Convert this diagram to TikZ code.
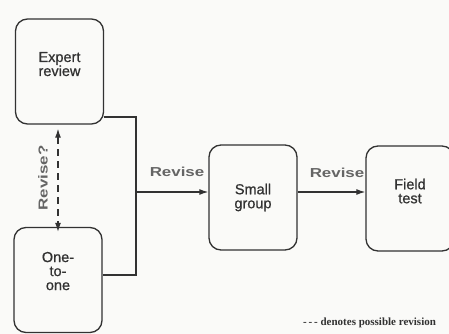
\documentclass[tikz,border=0pt]{standalone}
\usepackage{fontspec}
\setmainfont{Liberation Serif}
\newfontfamily\boxfont[FakeBold=0.8]{Liberation Sans}
\newfontfamily\revfont[FakeStretch=1.3]{Liberation Sans}
\usetikzlibrary{arrows.meta}
\definecolor{ink}{RGB}{50,50,50}
\definecolor{paper}{RGB}{250,250,248}
\begin{document}
\begin{tikzpicture}[x=1pt,y=-1pt,
  stagebox/.style={draw=ink,line width=1.3pt,rounded corners=12pt,minimum width=88pt,minimum height=105pt,inner sep=0pt,align=center,font=\boxfont\fontsize{14.5}{14}\selectfont,text=ink},
  conn/.style={draw=ink,line width=1.2pt},
  arr/.style={conn,-{Latex[length=9pt,width=6pt]}},
  revlabel/.style={font=\revfont\bfseries\fontsize{13}{14}\selectfont,text=ink!75}]
\useasboundingbox[fill=paper] (0,0) rectangle (449,334);
\node[stagebox] (expert) at (59.5,71.5) {Expert\\review\\[1pt]};
\node[stagebox] (one) at (58,280) {One-\\to-\\one\\[4pt]};
\node[stagebox] (small) at (253,197.5) {Small\\group};
\node[stagebox] (field) at (410,198.5) {Field\\test\\[1pt]};
\coordinate (jtop) at (136,117);
\coordinate (jbot) at (136,275);
\coordinate (jmid) at (136,192);
\draw[conn] (expert.east |- jtop) -- (jtop) -- (jbot) -- (one.east |- jbot);
\draw[arr] (jmid) -- (small.west |- jmid);
\draw[arr] (small.east |- jmid) -- (field.west |- jmid);
\draw[conn,dashed,dash pattern=on 7pt off 5pt,{Latex[length=9pt,width=6pt]}-{Latex[length=9pt,width=6pt]}] (expert.south -| 58,0) ++(0,4) -- ([yshift=-5pt]one.north -| 58,0);
\node[revlabel,rotate=90] (q) at (43,178) {Revise?};
\node[revlabel] (r1) at (177,172) {Revise};
\node[revlabel] (r2) at (337,173) {Revise};
\node[anchor=west,inner sep=1pt,font=\bfseries\fontsize{11}{12}\selectfont,text=ink] (note) at (302,323) {-\,-\,- denotes possible revision};
\end{tikzpicture}
\end{document}
